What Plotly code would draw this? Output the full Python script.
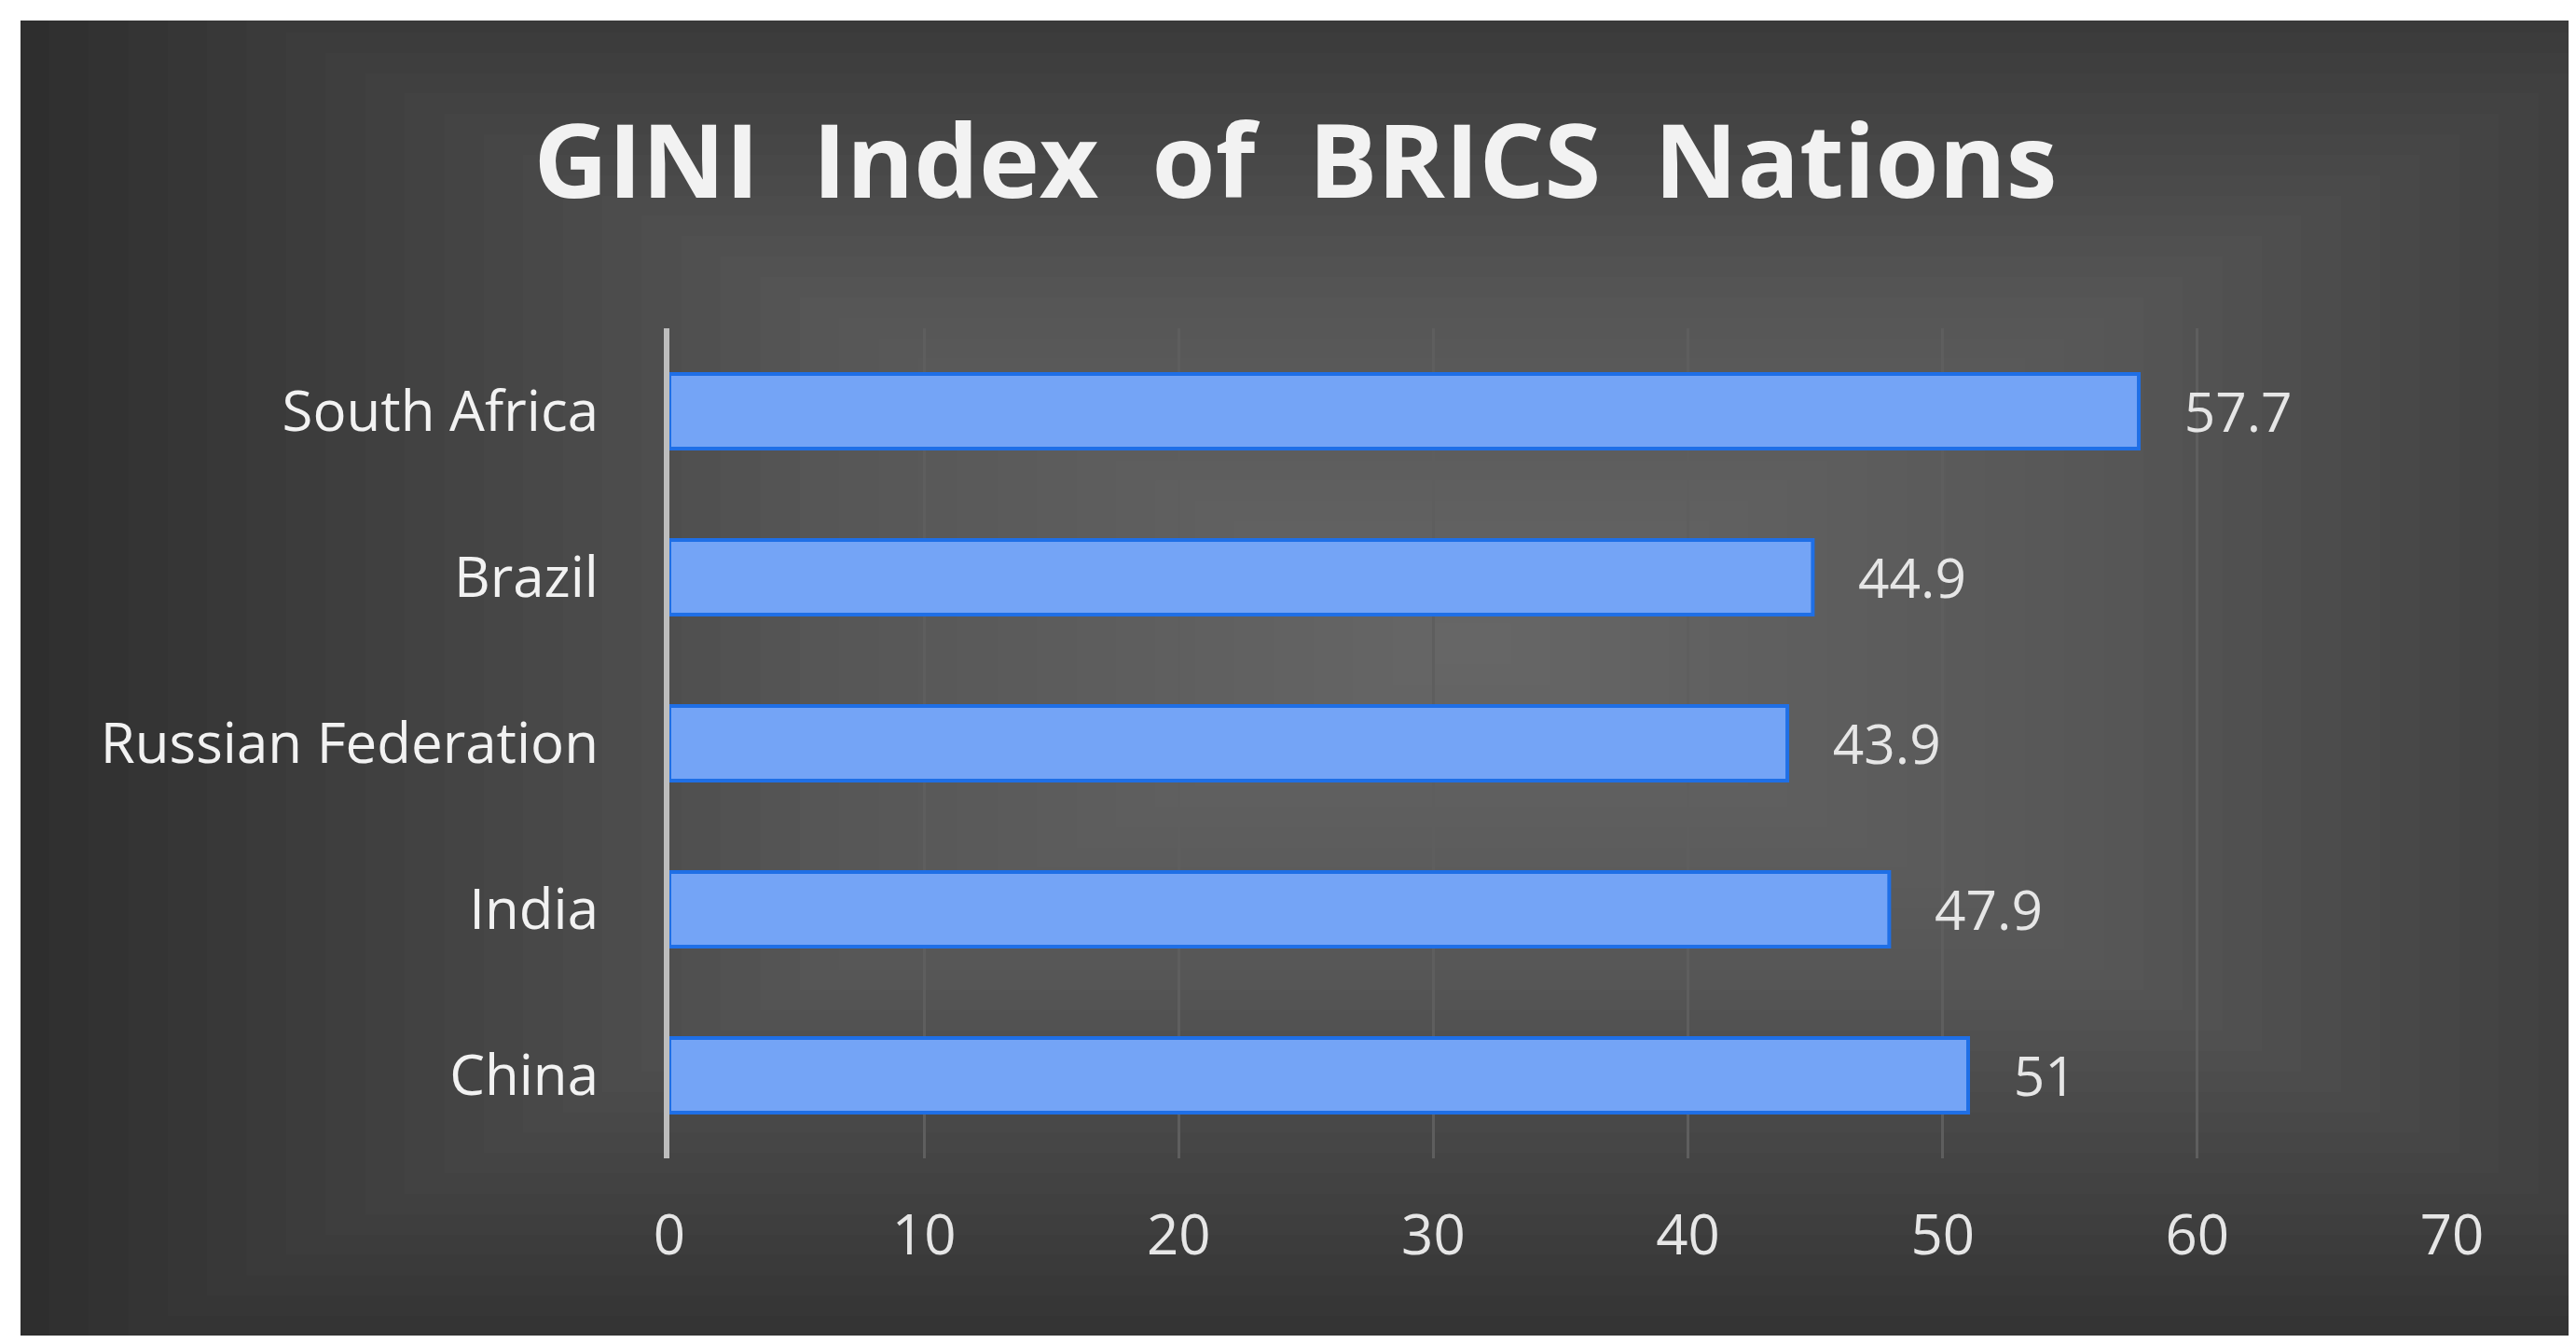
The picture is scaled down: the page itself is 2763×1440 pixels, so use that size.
import plotly.graph_objects as go

countries = ["China", "India", "Russian Federation", "Brazil", "South Africa"]
gini = [51, 47.9, 43.9, 44.9, 57.7]
x_ticks = [0, 10, 20, 30, 40, 50, 60, 70]

W, H = 2763, 1440
fig = go.Figure(go.Bar(
    x=gini, y=countries, orientation="h", width=0.45,
    marker=dict(color="#74a4f6", line=dict(color="#1f6fe6", width=4)),
    text=["   " + str(v) for v in gini], textposition="outside",
    textfont=dict(color="#e6e6e6", size=60, family="Open Sans"),
    cliponaxis=False,
))

fig.update_layout(
    width=W, height=H,
    paper_bgcolor="white", plot_bgcolor="rgba(0,0,0,0)",
    margin=dict(l=710, r=141, t=344, b=206),
    title=dict(text="<b>GINI  Index  of  BRICS  Nations</b>", x=0.5, xanchor="center",
               xref="container", y=1 - 165 / H, yanchor="middle",
               font=dict(size=110, color="#f2f2f2", family="Open Sans")),
    showlegend=False,
)
pw, ph = W - 851, H - 550
X0, X1 = -(710 - 14) / pw, 1 + (141 - 14) / pw
Y0, Y1 = -(206 - 16) / ph, 1 + (344 - 14) / ph
fig.add_shape(type="rect", xref="paper", yref="paper", x0=X0, x1=X1, y0=Y0, y1=Y1,
              layer="below", line=dict(width=0), fillcolor="#262626")
cx, cy = 0.45, 0.62
N = 40
for i in range(N):
    f = 1 - i / N
    hw = (X1 - X0) * 0.62 * f
    hh = (Y1 - Y0) * 0.62 * f
    fig.add_shape(type="rect", xref="paper", yref="paper",
                  x0=max(X0, cx - hw), x1=min(X1, cx + hw),
                  y0=max(Y0, cy - hh), y1=min(Y1, cy + hh),
                  layer="below", line=dict(width=0), fillcolor="rgba(255,255,255,0.0105)")

fig.update_xaxes(range=[0, 70], tickvals=x_ticks, showgrid=True, gridcolor="#5e5e5e",
                 gridwidth=3, zeroline=False, showline=False,
                 tickfont=dict(size=60, color="#e6e6e6", family="Open Sans"), ticklen=30,
                 ticks="outside", tickcolor="rgba(0,0,0,0)")
fig.update_yaxes(categoryorder="array", categoryarray=countries, showline=True,
                 linecolor="#bdbdbd", linewidth=6, showgrid=False, ticks="outside",
                 ticklen=58, tickcolor="rgba(0,0,0,0)",
                 tickfont=dict(size=60, color="#f2f2f2", family="Open Sans"))
fig.write_html("out.html")
